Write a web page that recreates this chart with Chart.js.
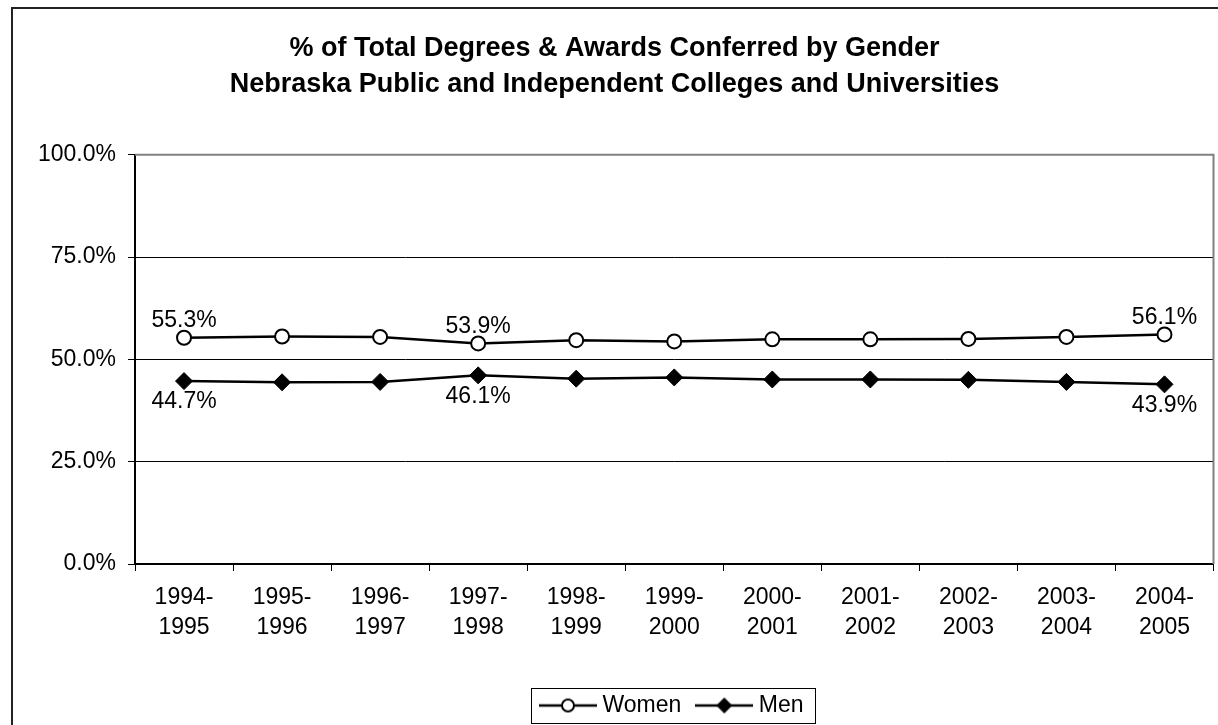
<!DOCTYPE html>
<html>
<head>
<meta charset="utf-8">
<script src="https://cdn.jsdelivr.net/npm/chart.js@4/dist/chart.umd.min.js"></script>
<style>
  html, body { margin: 0; padding: 0; background: #fff; overflow: hidden; }
  #moldura { position: absolute; left: 11px; top: 7px; width: 1300px; height: 800px; border: 2px solid #222; }
  #grafico { position: absolute; left: 0; top: 0; }
</style>
</head>
<body>
<div id="moldura"><canvas id="grafico" width="1210" height="730"></canvas></div>
<script>
const anos = [
  ["1994-", "1995"], ["1995-", "1996"], ["1996-", "1997"], ["1997-", "1998"],
  ["1998-", "1999"], ["1999-", "2000"], ["2000-", "2001"], ["2001-", "2002"],
  ["2002-", "2003"], ["2003-", "2004"], ["2004-", "2005"]
];
const mulheres = [55.3, 55.6, 55.5, 53.9, 54.7, 54.4, 54.9, 54.9, 55.0, 55.5, 56.1];
const homens = [44.7, 44.4, 44.5, 46.1, 45.3, 45.6, 45.1, 45.1, 45.0, 44.5, 43.9];
const comRotulo = [0, 3, 10];
const yTicks = [0, 25, 50, 75, 100];

const fonte = "'Liberation Sans', Arial, sans-serif";
Chart.defaults.font.family = fonte;
Chart.defaults.color = "#000";

// little line + marker pictures for the legend
function marcador(tipo) {
  let c = document.createElement("canvas");
  c.width = 58;
  c.height = 18;
  let g = c.getContext("2d");
  g.strokeStyle = "#000";
  g.lineWidth = 2.5;
  g.beginPath();
  g.moveTo(0, 9);
  g.lineTo(58, 9);
  g.stroke();
  if (tipo == "circulo") {
    g.fillStyle = "#fff";
    g.lineWidth = 2;
    g.beginPath();
    g.arc(29, 9, 6, 0, Math.PI * 2);
    g.fill();
    g.stroke();
  } else {
    g.fillStyle = "#000";
    g.beginPath();
    g.moveTo(29, 1);
    g.lineTo(37, 9);
    g.lineTo(29, 17);
    g.lineTo(21, 9);
    g.closePath();
    g.fill();
  }
  return c;
}
const imgMulheres = marcador("circulo");
const imgHomens = marcador("losango");

const rotulos = {
  id: "rotulos",
  afterDatasetsDraw(chart) {
    let ctx = chart.ctx;
    ctx.save();
    ctx.font = "23px " + fonte;
    ctx.fillStyle = "#000";
    ctx.textAlign = "center";
    ctx.textBaseline = "middle";
    chart.data.datasets.forEach((ds, d) => {
      let meta = chart.getDatasetMeta(d);
      comRotulo.forEach((i) => {
        let p = meta.data[i];
        let y = d == 0 ? p.y - 17 : p.y + 21;
        ctx.fillText(ds.data[i].toFixed(1) + "%", p.x, y);
      });
    });
    ctx.restore();
  },
};

const bordas = {
  id: "bordas",
  beforeDatasetsDraw(chart) {
    let a = chart.chartArea;
    let ctx = chart.ctx;
    ctx.save();
    ctx.strokeStyle = "#808080";
    ctx.lineWidth = 2;
    ctx.beginPath();
    ctx.moveTo(a.left, a.top);
    ctx.lineTo(a.right, a.top);
    ctx.lineTo(a.right, a.bottom);
    ctx.stroke();
    ctx.restore();
  },
  afterDraw(chart) {
    let lg = chart.legend;
    if (!lg || !lg.legendHitBoxes.length) return;
    let caixas = lg.legendHitBoxes;
    let esq = caixas[0].left - 14;
    let dir = caixas[caixas.length - 1].left + caixas[caixas.length - 1].width + 11;
    let meio = caixas[0].top + caixas[0].height / 2;
    let ctx = chart.ctx;
    ctx.save();
    ctx.strokeStyle = "#000";
    ctx.lineWidth = 1;
    ctx.strokeRect(Math.round(esq) + 0.5, Math.round(meio - 17.5) + 0.5, Math.round(dir - esq), 35);
    ctx.restore();
  },
};

const ctx = document.getElementById("grafico");
window.meuGrafico = new Chart(ctx, {
  type: "line",
  data: {
    labels: anos,
    datasets: [
      {
        label: "Women",
        data: mulheres,
        borderColor: "#000",
        borderWidth: 2.5,
        pointStyle: "circle",
        pointRadius: 7,
        pointBorderWidth: 2,
        pointBackgroundColor: "#fff",
        pointBorderColor: "#000",
      },
      {
        label: "Men",
        data: homens,
        borderColor: "#000",
        borderWidth: 2.5,
        pointStyle: "rectRot",
        pointRadius: 8.5,
        pointBorderWidth: 1,
        pointBackgroundColor: "#000",
        pointBorderColor: "#000",
      },
    ],
  },
  options: {
    responsive: false,
    animation: false,
    layout: { padding: { left: 0, right: 7, top: 0, bottom: 12 } },
    plugins: {
      title: {
        display: true,
        text: [
          "% of Total Degrees & Awards Conferred by Gender",
          "Nebraska Public and Independent Colleges and Universities",
        ],
        font: { size: 27, weight: "bold", lineHeight: 1.33 },
        color: "#000",
        padding: { top: 22, bottom: 52 },
      },
      legend: {
        position: "bottom",
        fullSize: false,
        labels: {
          usePointStyle: true,
          pointStyleWidth: 46,
          padding: 20,
          font: { size: 23 },
          color: "#000",
          generateLabels(chart) {
            let itens = Chart.defaults.plugins.legend.labels.generateLabels(chart);
            itens[0].pointStyle = imgMulheres;
            itens[1].pointStyle = imgHomens;
            return itens;
          },
        },
      },
      tooltip: { enabled: false },
    },
    scales: {
      x: {
        offset: true,
        grid: {
          offset: true,
          drawOnChartArea: false,
          drawTicks: true,
          tickLength: 7,
          tickColor: "#000",
          tickWidth: 1,
        },
        border: { color: "#000", width: 2 },
        ticks: {
          font: { size: 23, lineHeight: 1.3 },
          color: "#000",
          padding: 12,
          maxRotation: 0,
          autoSkip: false,
        },
        afterFit(scale) {
          scale.height = 110;
        },
      },
      y: {
        min: 0,
        max: 100,
        afterBuildTicks(scale) {
          scale.ticks = yTicks.map((v) => ({ value: v }));
        },
        grid: {
          color: (c) => (c.tick && c.tick.value == 100 ? "rgba(0,0,0,0)" : "#000"),
          lineWidth: 1,
          tickLength: 7,
          tickColor: "#000",
        },
        border: { color: "#000", width: 2 },
        ticks: {
          font: { size: 23 },
          color: "#000",
          padding: 12,
          callback: (v) => v.toFixed(1) + "%",
        },
        afterFit(scale) {
          scale.width = 122;
        },
      },
    },
  },
  plugins: [rotulos, bordas],
});
</script>
</body>
</html>
